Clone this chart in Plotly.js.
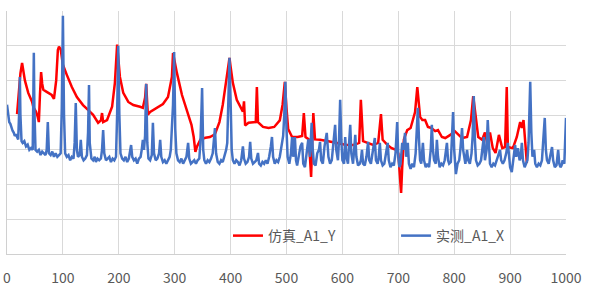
<!DOCTYPE html>
<html>
<head>
<meta charset="utf-8">
<script src="https://cdn.plot.ly/plotly-3.0.1.min.js"></script>
<style>
html,body{margin:0;padding:0;background:#fff;}
#chart{width:591px;height:292px;}
</style>
</head>
<body>
<div id="chart"></div>
<script>
// Series names
const seriesNames = ["仿真_A1_Y", "实测_A1_X"];
// X axis tick values
const xTicks = [0, 100, 200, 300, 400, 500, 600, 700, 800, 900, 1000];

// 仿真_A1_Y (simulation, red)
const simX = [18,21,24,27,32,38,45,47,52,55,57,59,61,63,65,71,80,84,88,91,93,96,100,107,116,125,136,145,154,163,168,170,172,179,188,193,197,202,208,217,226,238,243,247,249,251,252,256,268,279,288,295,297,304,313,322,330,334,337,340,346,355,363,372,380,386,391,395,398,400,404,411,418,422,424,426,432,440,445,447,449,458,468,478,488,493,497,500,503,510,520,528,531,534,540,543,544,546,548,551,560,575,590,605,620,630,633,637,645,655,664,669,672,680,688,696,700,703,705,707,710,716,722,730,734,739,743,748,753,759,766,771,778,784,793,801,814,823,830,834,839,843,850,855,859,864,869,874,880,886,891,894,896,905,912,918,921,924,930];
const simY = [4.03,4.6,5.2,5.5,5.0,4.64,4.38,4.24,4.1,3.95,3.8,4.6,5.24,4.9,4.73,4.67,4.58,4.47,5.0,5.88,5.97,5.9,5.45,5.16,4.81,4.52,4.29,4.15,4.01,3.78,3.85,4.06,3.8,3.86,4.24,4.93,6.03,5.1,4.64,4.38,4.29,4.24,4.21,4.5,4.9,4.3,4.01,4.09,4.21,4.32,4.52,5.1,5.79,5.21,4.58,4.15,3.72,3.37,2.94,3.1,3.3,3.35,3.37,3.45,3.8,4.3,4.9,5.35,5.65,5.4,4.93,4.44,4.2,4.1,4.4,3.7,3.78,3.8,3.8,4.81,3.8,3.66,3.63,3.66,3.85,4.3,4.96,4.2,3.6,3.37,3.37,3.4,4.06,3.37,3.3,2.5,2.22,3.2,4.06,3.3,3.29,3.25,3.2,3.15,3.14,3.2,4.44,3.25,3.2,3.14,3.2,4.03,3.29,3.15,3.05,3.0,2.9,2.3,1.76,2.5,3.3,3.57,3.63,4.09,4.81,3.95,3.86,3.86,3.66,3.63,3.54,3.57,3.37,3.34,3.43,3.54,3.34,3.37,3.86,4.55,3.8,3.37,3.29,3.5,3.2,3.5,3.05,2.91,3.43,3.05,3.08,4.81,3.08,3.05,3.37,3.8,3.63,3.86,2.62];

// 实测_A1_X (measurement, blue)
const measX = [0,2,4,6,8,10,12,14,16,18,20,22,23,24,26,28,31,34,37,40,43,46,47,48,49,51,54,57,60,63,66,69,71,73,75,78,81,84,87,90,93,96,98,100,102,104,107,110,113,116,119,121,123,125,127,130,132,134,137,140,143,145,146.7,148,151,154,157,159,162,165,168,170,172,174,177,180,183,186,189,192,195,197,199,201,203,206,209,212,215,218,220,222,224,227,230,233,236,239,241,243,245,247,249,251,253,256,259,261,263,266,269,272,274,276,279,282,285,288,291,293,295,297,299,301,303,306,309,312,315,318,321,324,326,329,332,335,338,341,344,346,348,349,351,353,356,359,362,365,368,370,372,374,377,380,383,386,389,392,394,396,398,400,402,404,407,410,413,416,419,422,424,427,430,433,435,437,440,443,446,449,451,454,457,460,463,466,469,472,474,476,479,482,485,488,490,492,494,496,498,500,502,505,508,510,512,515,517,519,522,525,528,530,533,536,539,542,545,547,549,552,555,558,560,562,565,568,572,575,578,581,584,587,589,592,594,596,598,600,603,605,607,610,612,614,616,619,621,623,625,628,631,633,635,637,640,643,646,648,651,654,658,660,663,665,667,669,672,675,678,681,683,686,689,692,695,698,700,702,704,707,709,712,714,717,719,722,725,728,731,733,735,737,739,741,744,746,749,752,755,758,760,762,764,767,769,771,774,777,780,783,787,789,791,794,796,798,800,803,806,809,811,814,816,818,820,823,825,828,831,833,835,837,839,842,845,848,851,853,855,858,860,862,864,867,870,873,876,879,882,884,887,890,893,896,898,900,903,906,909,911,914,917,919,921,923,926,929,931,933,935,936,938,940,943,945,948,951,954,957,959,962,964,966,969,972,975,977,980,983,986,988,990,992,994,997,1000];
const measY = [4.3,4.0,3.8,3.75,3.6,3.55,3.5,3.4,3.45,3.35,3.3,4.2,5.1,4.0,3.25,3.2,3.25,3.1,3.15,3.0,3.05,3.0,4.5,5.8,4.2,3.0,2.95,3.0,2.85,2.95,2.9,2.85,3.0,3.8,2.9,2.85,2.95,2.8,2.9,2.8,2.85,2.9,4.2,6.86,4.0,2.9,2.8,2.85,2.7,2.8,2.75,3.2,4.35,3.0,2.8,2.85,3.29,2.8,2.7,2.75,2.85,3.5,4.87,3.2,2.75,2.7,2.8,2.65,2.75,2.7,2.75,3.0,3.57,2.9,2.7,2.75,2.8,2.65,2.75,2.7,2.8,4.0,6.0,4.0,2.9,2.75,2.7,2.8,2.65,2.75,2.9,3.14,2.8,2.7,2.75,2.6,2.75,2.8,3.0,3.29,3.0,3.4,4.9,3.2,2.75,2.7,2.85,3.78,2.9,2.7,2.75,2.9,3.29,2.8,2.65,2.7,2.6,2.7,2.8,3.0,3.78,4.3,5.82,3.6,2.9,2.7,2.65,2.75,2.6,2.7,2.8,3.2,2.75,2.6,2.65,2.7,2.6,2.7,2.75,3.2,4.2,4.78,3.0,2.7,2.6,2.7,2.65,2.75,2.9,3.2,3.63,2.9,2.65,2.6,2.7,2.65,2.8,3.0,3.2,4.5,5.65,4.4,3.0,2.7,2.6,2.7,2.65,2.55,2.7,3.1,2.75,2.6,2.65,2.8,3.23,2.75,2.6,2.65,2.7,2.91,2.6,2.55,2.65,2.6,2.7,2.6,2.8,3.1,3.37,2.8,2.6,2.7,2.65,2.8,3.0,3.23,3.4,4.0,4.96,3.6,2.8,2.6,2.9,3.37,2.8,3.37,2.7,2.55,2.8,3.1,3.2,2.6,2.5,2.9,3.3,2.8,3.78,3.0,2.6,2.55,2.9,3.0,3.23,2.7,2.6,3.1,3.49,2.8,2.6,2.7,3.2,3.72,3.0,2.7,3.3,4.44,3.3,2.7,2.6,3.37,2.8,2.6,3.2,3.72,2.9,2.6,3.0,3.43,2.8,2.55,2.6,2.7,3.0,2.6,2.55,2.8,3.23,2.7,2.6,2.9,3.34,2.7,2.6,2.8,3.2,2.7,2.55,2.6,2.9,3.2,2.7,2.5,2.6,2.55,2.9,3.8,2.8,2.5,2.6,3.2,3.0,3.49,2.8,3.2,2.6,2.45,2.6,2.5,2.9,3.5,4.21,3.3,2.7,2.6,3.2,2.7,2.5,2.6,2.5,3.0,3.72,3.0,2.7,2.6,3.29,2.8,2.5,2.6,2.55,2.7,3.2,2.7,2.6,2.65,3.2,4.09,3.0,2.3,2.6,2.7,3.0,3.63,3.0,2.7,2.6,3.0,2.7,2.6,2.9,3.4,4.55,3.3,2.7,2.55,2.6,2.7,3.23,3.37,2.7,3.0,3.86,3.0,2.6,2.5,2.6,2.55,2.7,2.9,3.0,2.7,2.6,2.7,2.9,3.2,2.7,2.5,2.36,2.7,3.14,2.8,3.05,2.7,2.8,3.2,2.7,2.5,2.6,2.7,3.2,4.2,4.96,3.5,2.8,3.0,2.6,2.5,2.6,2.55,2.7,3.2,3.92,3.0,2.7,2.6,2.8,3.08,2.7,2.5,2.56,3.0,2.6,2.5,2.55,2.7,2.6,3.92];

const traces = [
  {
    x: simX, y: simY, name: seriesNames[0], type: 'scatter', mode: 'lines',
    line: {color: '#FF0000', width: 2.5}, legend: 'legend'
  },
  {
    x: measX, y: measY, name: seriesNames[1], type: 'scatter', mode: 'lines',
    line: {color: '#4472C4', width: 2.5}, legend: 'legend2'
  }
];

const legendFont = {family: 'Noto Sans CJK SC, sans-serif', size: 14, color: '#595959'};

const layout = {
  width: 591, height: 292,
  margin: {l: 7, r: 25, t: 11, b: 38, pad: 0},
  paper_bgcolor: '#ffffff', plot_bgcolor: '#ffffff',
  showlegend: true,
  xaxis: {
    range: [0, 1000], tickmode: 'array', tickvals: xTicks, ticktext: xTicks.map(String),
    showgrid: true, gridcolor: '#D9D9D9', gridwidth: 1,
    zeroline: false, showline: true, linecolor: '#D0D0D0', linewidth: 1,
    ticks: 'outside', ticklen: 11, tickcolor: 'rgba(0,0,0,0)',
    tickfont: {family: 'Noto Sans CJK SC, sans-serif', size: 14, color: '#595959'},
    fixedrange: true
  },
  yaxis: {
    range: [0, 7], dtick: 1, tick0: 0, showticklabels: false,
    showgrid: true, gridcolor: '#D9D9D9', gridwidth: 1,
    zeroline: false, showline: true, linecolor: '#D0D0D0', linewidth: 1,
    ticks: '', fixedrange: true
  },
  legend: {
    x: 0.3953, y: 0.074, xanchor: 'left', yanchor: 'middle',
    orientation: 'h', bgcolor: 'rgba(0,0,0,0)', borderwidth: 0, font: legendFont
  },
  legend2: {
    x: 0.696, y: 0.074, xanchor: 'left', yanchor: 'middle',
    orientation: 'h', bgcolor: 'rgba(0,0,0,0)', borderwidth: 0, font: legendFont
  }
};

Plotly.newPlot('chart', traces, layout, {displayModeBar: false, staticPlot: true});
</script>
</body>
</html>
